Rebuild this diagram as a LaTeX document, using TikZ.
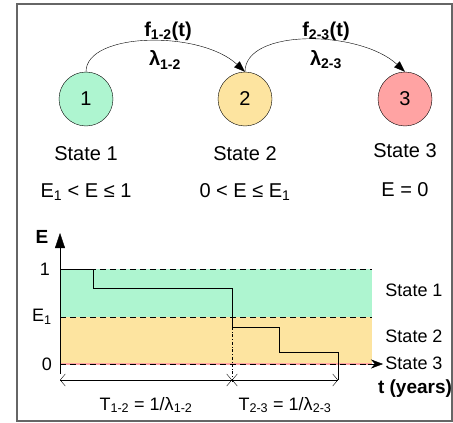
\documentclass[tikz,border=0pt]{standalone}
\usepackage{fontspec}
\setmainfont{Liberation Sans}
\usetikzlibrary{arrows.meta}
\definecolor{stgreen}{HTML}{AEF5D0}
\definecolor{storange}{HTML}{FDE4A0}
\definecolor{stred}{HTML}{FFA3A3}
\tikzset{
  state/.style={circle, draw, thin, minimum size=54pt, inner sep=0pt, font=\fontsize{20}{20}\selectfont},
  toplbl/.style={font=\fontsize{20}{20}\selectfont},
  lbl/.style={font=\fontsize{18}{18}\selectfont},
  flbl/.style={font=\fontsize{20}{20}\selectfont\bfseries},
  blbl/.style={font=\fontsize{19}{19}\selectfont\bfseries},
  trans/.style={thin, -{Triangle[length=11pt,width=8pt]}},
  level/.style={dashed, dash pattern=on 6pt off 4pt, thin},
  dim/.style={thin, {Straight Barb[length=5pt,width=12pt]}-{Straight Barb[length=5pt,width=12pt]}}
}
\begin{document}
\begin{tikzpicture}[x=1pt,y=-1pt]
    \useasboundingbox (0,0) rectangle (453,423);
    \draw[gray!80!black, line width=1.5pt] (17,4) rectangle (452,421);
    % States
    \node[state, fill=stgreen] (s1) at (86,99) {1};
    \node[state, fill=storange] (s2) at (245,99) {2};
    \node[state, fill=stred] (s3) at (405,99) {3};
    \node[toplbl] (n1) at (86,154) {State 1};
    \node[toplbl] (n2) at (245,154) {State 2};
    \node[toplbl] (n3) at (405,151) {State 3};
    \node[toplbl] (r1) at (86,192) {E\textsubscript{1} < E ≤ 1};
    \node[toplbl] (r2) at (245,192) {0 < E ≤ E\textsubscript{1}};
    \node[toplbl] (r3) at (405,190) {E = 0};
    % Transitions
    \draw[trans] (s1.north) .. controls (86,32) and (200,30) .. (s2.north);
    \draw[trans] (s2.north) .. controls (245,28) and (360,30) .. (s3.north);
    \node[flbl] (f12) at (168,31) {f\textsubscript{1-2}(t)};
    \node[flbl] (l12) at (165,60) {λ\textsubscript{1-2}};
    \node[flbl] (f23) at (326,31) {f\textsubscript{2-3}(t)};
    \node[flbl] (l23) at (326,60) {λ\textsubscript{2-3}};
    % Bands
    \fill[stgreen] (60,269) rectangle (372,317);
    \fill[storange] (60,317) rectangle (372,364);
    \draw[stred, line width=1.5pt] (60,364) -- (372,364);
    \draw[level] (60,269) -- (372,269);
    \draw[level] (60,317) -- (372,317);
    \draw[level] (60,364) -- (372,364);
    % Axes
    \draw[thin, -{Triangle[length=15pt,width=10pt]}] (60,374) -- (60,233);
    \draw[thin, -{Stealth[length=12pt,width=9pt]}] (368,364) -- (383,364);
    \node[blbl] (ax) at (42,237) {E};
    \node[lbl] (y1) at (45,269) {1};
    \node[lbl] (ye) at (42,317) {E\textsubscript{1}};
    \node[lbl] (y0) at (47,364) {0};
    \node[blbl] (tx) at (415,389) {t (years)};
    \node[lbl] (b1) at (414,290) {State 1};
    \node[lbl] (b2) at (414,336) {State 2};
    \node[lbl] (b3) at (414,363) {State 3};
    % Path of E
    \draw[thin] (60,269) -- (93,269) -- (93,288) -- (232,288) -- (232,327) -- (279,327)
      -- (279,352) -- (338,352) -- (338,380);
    \draw[thin, dash dot] (232,327) -- (232,382);
    % Times
    \coordinate (t0) at (60,380);
    \coordinate (t1) at (232,380);
    \coordinate (t2) at (338,380);
    \draw[dim] (t0) -- (t1);
    \draw[dim] (t1) -- (t2);
    \node[lbl] (d1) at (146,405) {T\textsubscript{1-2} = 1/λ\textsubscript{1-2}};
    \node[lbl] (d2) at (285,405) {T\textsubscript{2-3} = 1/λ\textsubscript{2-3}};
\end{tikzpicture}
\end{document}
